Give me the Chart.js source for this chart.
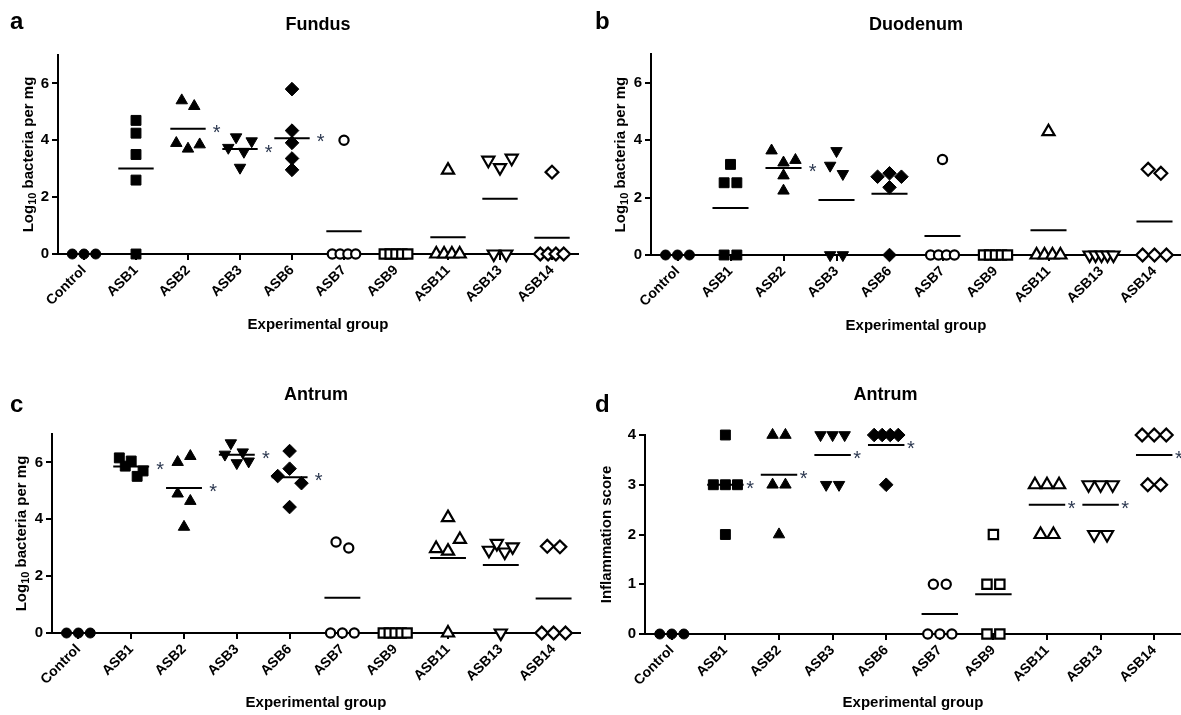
<!DOCTYPE html>
<html>
<head>
<meta charset="utf-8">
<script src="https://cdn.jsdelivr.net/npm/chart.js@4.4.0/dist/chart.umd.min.js"></script>
<style>
  html, body { margin: 0; padding: 0; background: #fff; }
  #wrap { position: relative; width: 1181px; height: 715px; overflow: hidden; font-family: Arial, "Liberation Sans", sans-serif; }
  canvas { position: absolute; }
  .letter { position: absolute; font-weight: bold; font-size: 24px; line-height: 1; color: #000; }
</style>
</head>
<body>
<div id="wrap">
  <canvas id="chartA" width="590" height="345" style="left:0;top:0"></canvas>
  <canvas id="chartB" width="591" height="345" style="left:590px;top:0"></canvas>
  <canvas id="chartC" width="590" height="355" style="left:0;top:360px"></canvas>
  <canvas id="chartD" width="591" height="355" style="left:590px;top:360px"></canvas>
  <div class="letter" style="left:10px;top:9px">a</div>
  <div class="letter" style="left:595px;top:9px">b</div>
  <div class="letter" style="left:10px;top:392px">c</div>
  <div class="letter" style="left:595px;top:392px">d</div>
</div>
<script>
// groups on the x axis
const groups = ['Control', 'ASB1', 'ASB2', 'ASB3', 'ASB6', 'ASB7', 'ASB9', 'ASB11', 'ASB13', 'ASB14'];

// log10 bacteria per mg, one list per group (read left to right, top to bottom)
const fundus = [
    [0, 0, 0],
    [4.7, 4.25, 3.5, 2.6, 0],
    [5.4, 5.2, 3.9, 3.7, 3.85],
    [3.74, 4.11, 3.6, 3.97, 3.04],
    [5.8, 4.34, 3.91, 3.36, 2.96],
    [4.0, 0, 0, 0, 0],
    [0, 0, 0, 0, 0],
    [2.95, 0, 0, 0, 0],
    [3.3, 3.04, 3.37, 0, 0],
    [2.88, 0, 0, 0, 0]
];
const duodenum = [
    [0, 0, 0],
    [2.52, 3.16, 2.52, 0, 0],
    [3.64, 3.22, 3.31, 2.77, 2.24],
    [3.12, 3.63, 2.83, 0, 0],
    [2.73, 2.85, 2.73, 2.36, 0],
    [3.33, 0, 0, 0, 0],
    [0, 0, 0, 0, 0],
    [4.3, 0, 0, 0, 0],
    [0, 0, 0, 0, 0],
    [2.99, 2.85, 0, 0, 0]
];
const antrum = [
    [0, 0, 0],
    [6.16, 5.87, 6.05, 5.51, 5.7],
    [6.01, 6.22, 4.9, 4.64, 3.73],
    [6.28, 6.68, 5.98, 6.36, 6.04],
    [6.4, 5.52, 5.78, 5.27, 4.43],
    [3.2, 2.99, 0, 0, 0],
    [0, 0, 0, 0, 0],
    [4.06, 2.97, 2.88, 3.29, 0],
    [2.91, 3.15, 2.85, 3.03, 0],
    [3.05, 3.03, 0, 0, 0]
];
// inflammation score (antrum)
const antrumScore = [
    [0, 0, 0],
    [4, 3, 3, 3, 2],
    [4, 4, 3, 3, 2],
    [4, 4, 4, 3, 3],
    [4, 4, 4, 4, 3],
    [1, 1, 0, 0, 0],
    [2, 1, 1, 0, 0],
    [3, 3, 3, 2, 2],
    [3, 3, 3, 2, 2],
    [4, 4, 4, 3, 3]
];

// groups marked with * next to the mean
const sigFundus = ['ASB2', 'ASB3', 'ASB6'];
const sigDuodenum = ['ASB2'];
const sigAntrum = ['ASB1', 'ASB2', 'ASB3', 'ASB6'];
const sigScore = ['ASB1', 'ASB2', 'ASB3', 'ASB6', 'ASB11', 'ASB13', 'ASB14'];

const bacteriaTicks = [0, 2, 4, 6];
const scoreTicks = [0, 1, 2, 3, 4];

// y titles as [text, subscript?] pieces
const bacteriaTitle = [['Log', false], ['10', true], [' bacteria per mg', false]];
const scoreTitle = [['Inflammation score', false]];

// marker per group: shape, filled
const shapes = ['circle', 'rect', 'triangle', 'triangleDown', 'rectRot',
                'circle', 'rect', 'triangle', 'triangleDown', 'rectRot'];
const FONT = 'Arial, "Liberation Sans", sans-serif';

function mean(vals) {
    return vals.reduce((a, b) => a + b, 0) / vals.length;
}

// spread points that sit at nearly the same height, like a dot plot
function spread(values, tol, step, span) {
    const idx = values.map((v, i) => i).sort((a, b) => values[b] - values[a]);
    const clusters = [];
    let cur = [];
    idx.forEach(i => {
        if (cur.length && values[cur[cur.length - 1]] - values[i] > tol) {
            clusters.push(cur);
            cur = [];
        }
        cur.push(i);
    });
    if (cur.length) clusters.push(cur);
    const off = new Array(values.length).fill(0);
    clusters.forEach(c => {
        c.sort((a, b) => a - b);
        const n = c.length;
        const s = n > 1 ? Math.min(step, span / (n - 1)) : 0;
        c.forEach((i, k) => { off[i] = (k - (n - 1) / 2) * s; });
    });
    return off;
}

function markerStyle(i) {
    const filled = i < 5;
    const shape = shapes[i];
    let pointStyle = shape, rotation = 0, radius;
    if (shape === 'triangleDown') { pointStyle = 'triangle'; rotation = 180; }
    if (pointStyle === 'circle') radius = filled ? 5 : 4.6;
    else if (pointStyle === 'rect') radius = filled ? 7 : 6.6;
    else if (pointStyle === 'triangle') radius = filled ? 6.6 : 7;
    else radius = filled ? 6.8 : 6.4;
    return {
        pointStyle: pointStyle,
        pointRotation: rotation,
        pointRadius: radius,
        pointBackgroundColor: filled ? '#000' : '#fff',
        pointBorderColor: '#000',
        pointBorderWidth: filled ? 1 : 2.2
    };
}

// asterisks to the right of the mean line
const starPlugin = {
    id: 'stars',
    afterDatasetsDraw(chart, args, opts) {
        const { ctx, scales: { x, y } } = chart;
        ctx.save();
        ctx.fillStyle = '#2c3850';
        ctx.font = '20px ' + FONT;
        ctx.textAlign = 'center';
        ctx.textBaseline = 'middle';
        (opts.groups || []).forEach(g => {
            const i = groups.indexOf(g);
            const m = mean(opts.values[i]);
            ctx.fillText('*', x.getPixelForValue(i + opts.offset), y.getPixelForValue(m) + 4.5);
        });
        ctx.restore();
    }
};

// rotated y title with a real subscript
const yTitlePlugin = {
    id: 'ytitle',
    afterDraw(chart, args, opts) {
        const { ctx, chartArea } = chart;
        const main = 'bold 15px ' + FONT;
        const sub = 'bold 11px ' + FONT;
        let total = 0;
        opts.parts.forEach(p => {
            ctx.font = p[1] ? sub : main;
            total += ctx.measureText(p[0]).width;
        });
        ctx.save();
        ctx.translate(opts.baseline, (chartArea.top + chartArea.bottom) / 2);
        ctx.rotate(-Math.PI / 2);
        ctx.fillStyle = '#000';
        ctx.textBaseline = 'alphabetic';
        ctx.textAlign = 'left';
        let cx = -total / 2;
        opts.parts.forEach(p => {
            ctx.font = p[1] ? sub : main;
            ctx.fillText(p[0], cx, p[1] ? 3 : 0);
            cx += ctx.measureText(p[0]).width;
        });
        ctx.restore();
    }
};

function createPanel(cfg) {
    const datasets = [];
    cfg.data.forEach((vals, i) => {
        const off = spread(vals, 0.35, 0.24, 0.45);
        datasets.push(Object.assign({
            type: 'scatter',
            data: vals.map((v, k) => ({ x: i + off[k], y: v })),
            clip: false,
            order: 0
        }, markerStyle(i)));
    });

    const meanData = [];
    cfg.data.forEach((vals, i) => {
        const m = mean(vals);
        meanData.push({ x: i - 0.34, y: m }, { x: i + 0.34, y: m }, { x: i + 0.5, y: null });
    });
    datasets.push({
        type: 'line',
        data: meanData,
        borderColor: '#000',
        borderWidth: 2,
        pointRadius: 0,
        spanGaps: false,
        clip: false,
        order: 1
    });

    return new Chart(document.getElementById(cfg.id), {
        type: 'scatter',
        data: { datasets: datasets },
        plugins: [starPlugin, yTitlePlugin],
        options: {
            responsive: false,
            animation: false,
            events: [],
            layout: { padding: cfg.pad, autoPadding: false },
            plugins: {
                legend: { display: false },
                tooltip: { enabled: false },
                title: {
                    display: true,
                    text: cfg.title,
                    color: '#000',
                    fullSize: cfg.titleFull,
                    font: { family: FONT, size: 18, weight: 'bold' },
                    padding: cfg.titlePad
                },
                stars: { groups: cfg.sig, values: cfg.data, offset: cfg.starOffset },
                ytitle: { parts: cfg.yTitle, baseline: cfg.yTitleX }
            },
            scales: {
                x: {
                    type: 'linear',
                    min: -0.5,
                    max: 9.5,
                    afterBuildTicks: s => { s.ticks = groups.map((g, i) => ({ value: i })); },
                    afterFit: s => { s.height = cfg.xH; },
                    ticks: {
                        callback: (v, i) => groups[i],
                        autoSkip: false,
                        minRotation: 45,
                        maxRotation: 45,
                        padding: 2,
                        color: '#000',
                        font: { family: FONT, size: 14, weight: 'bold' }
                    },
                    grid: { drawOnChartArea: false, drawTicks: true, tickLength: 6, color: '#000', lineWidth: 2 },
                    border: { display: true, color: '#000', width: 2 },
                    title: {
                        display: true,
                        text: 'Experimental group',
                        color: '#000',
                        font: { family: FONT, size: 15, weight: 'bold' },
                        padding: { top: 0, bottom: 0 }
                    }
                },
                y: {
                    min: 0,
                    max: cfg.yMax,
                    afterBuildTicks: s => { s.ticks = cfg.yTicks.map(v => ({ value: v })); },
                    afterFit: s => { s.width = cfg.yW; },
                    ticks: {
                        padding: 3,
                        color: '#000',
                        font: { family: FONT, size: 15, weight: 'bold' }
                    },
                    grid: { drawOnChartArea: false, drawTicks: true, tickLength: 6, color: '#000', lineWidth: 2 },
                    border: { display: true, color: '#000', width: 2 }
                }
            }
        }
    });
}

createPanel({
    id: 'chartA', title: 'Fundus', titleFull: false, data: fundus, sig: sigFundus,
    yMax: 7, yTicks: bacteriaTicks, yTitle: bacteriaTitle, yTitleX: 33,
    yW: 58, xH: 80, starOffset: 0.55,
    pad: { left: 0, right: 12, top: 0, bottom: 11 },
    titlePad: { top: 14, bottom: 19.4 }
});
createPanel({
    id: 'chartB', title: 'Duodenum', titleFull: false, data: duodenum, sig: sigDuodenum,
    yMax: 7, yTicks: bacteriaTicks, yTitle: bacteriaTitle, yTitleX: 35,
    yW: 61, xH: 80, starOffset: 0.55,
    pad: { left: 0, right: 0, top: 0, bottom: 10 },
    titlePad: { top: 14, bottom: 18.7 }
});
createPanel({
    id: 'chartC', title: 'Antrum', titleFull: false, data: antrum, sig: sigAntrum,
    yMax: 7, yTicks: bacteriaTicks, yTitle: bacteriaTitle, yTitleX: 26,
    yW: 52, xH: 79, starOffset: 0.55,
    pad: { left: 0, right: 10, top: 0, bottom: 3 },
    titlePad: { top: 24, bottom: 28.4 }
});
createPanel({
    id: 'chartD', title: 'Antrum', titleFull: true, data: antrumScore, sig: sigScore,
    yMax: 4, yTicks: scoreTicks, yTitle: scoreTitle, yTitleX: 21,
    yW: 55, xH: 78, starOffset: 0.46,
    pad: { left: 0, right: 0, top: 0, bottom: 3 },
    titlePad: { top: 24, bottom: 29.4 }
});
</script>
</body>
</html>
